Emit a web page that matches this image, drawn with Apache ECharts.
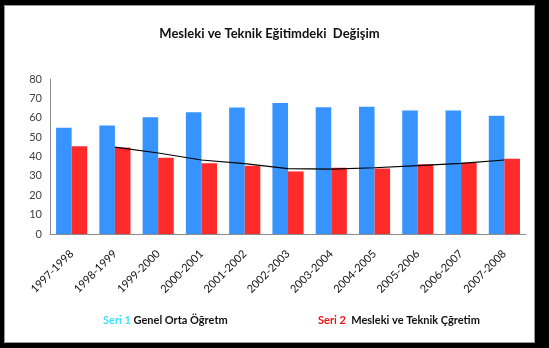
<!DOCTYPE html>
<html>
<head>
<meta charset="utf-8">
<script src="https://cdn.jsdelivr.net/npm/echarts@6/dist/echarts.min.js"></script>
<style>
  html, body { margin: 0; padding: 0; background: #000; }
  body { width: 549px; height: 348px; position: relative; overflow: hidden; }
  #frame {
    position: absolute; left: 4px; top: 5px; width: 531px; height: 338px;
    background: #fff; border: 1px solid #999; box-sizing: border-box;
  }
  #chart { width: 100%; height: 100%; }
</style>
</head>
<body>
<div id="frame"><div id="chart"></div></div>
<script>
// kategoriler (öğretim yılları)
const years = [
  "1997-1998", "1998-1999", "1999-2000", "2000-2001", "2001-2002", "2002-2003",
  "2003-2004", "2004-2005", "2005-2006", "2006-2007", "2007-2008"
];
// Seri 1 - Genel Orta Öğretim (%)
const genelOrta = [54.9, 56, 60.3, 62.8, 65.3, 67.6, 65.4, 65.7, 63.7, 63.7, 61];
// Seri 2 - Mesleki ve Teknik Öğretim (%)
const meslekiTeknik = [45.3, 44.7, 39.4, 36.5, 35.2, 32.3, 34.2, 33.8, 36, 36.8, 38.9];
// eğilim çizgisi
const egilim = [null, 44.8, 41.8, 38.2, 36.3, 33.7, 33.5, 34.2, 35.3, 36.5, 38.2];
const yTicks = [0, 10, 20, 30, 40, 50, 60, 70, 80];

const font = "Lato, 'Open Sans', sans-serif";

const chart = echarts.init(document.getElementById("chart"));

const legendBase = {
  orient: "horizontal",
  top: 304,
  itemWidth: 0,
  itemHeight: 0,
  itemGap: 0,
  icon: "rect",
  selectedMode: false,
  textStyle: {
    fontFamily: font,
    fontSize: 11,
    fontWeight: "bold",
    color: "#111",
  },
};

chart.setOption({
  animation: false,
  title: {
    text: "Mesleki ve Teknik Eğitimdeki  Değişim",
    left: "center",
    top: 16,
    textStyle: { fontFamily: font, fontSize: 13, fontWeight: "bold", color: "#111" },
  },
  grid: { left: 45, right: 8, top: 73, bottom: 108, containLabel: false },
  legend: [
    {
      ...legendBase,
      left: 88,
      data: ["Genel Orta Öğretm"],
      formatter: (n) => "{s|Seri 1} " + n,
      textStyle: { ...legendBase.textStyle, rich: { s: { color: "#3fe0ff", fontFamily: font, fontSize: 11, fontWeight: "bold" } } },
    },
    {
      ...legendBase,
      left: 303,
      data: ["Mesleki ve Teknik Çğretim"],
      formatter: (n) => "{s|Seri 2}  " + n,
      textStyle: { ...legendBase.textStyle, rich: { s: { color: "#ee1111", fontFamily: font, fontSize: 11, fontWeight: "bold" } } },
    },
  ],
  xAxis: {
    type: "category",
    data: years,
    axisLine: { lineStyle: { color: "#8c8c8c", width: 1 } },
    axisTick: { show: false },
    axisLabel: {
      rotate: 45,
      margin: 18,
      fontFamily: font,
      fontSize: 11,
      color: "#111",
      interval: 0,
    },
  },
  yAxis: {
    type: "value",
    min: yTicks[0],
    max: yTicks[yTicks.length - 1],
    interval: 10,
    axisLine: { show: true, lineStyle: { color: "#8c8c8c", width: 1 } },
    axisTick: { show: false },
    splitLine: { show: false },
    axisLabel: { fontFamily: font, fontSize: 11, color: "#404040", margin: 8 },
  },
  series: [
    {
      name: "Genel Orta Öğretm",
      type: "bar",
      data: genelOrta,
      barGap: "0%",
      barCategoryGap: "28%",
      itemStyle: { color: "#3794ff" },
    },
    {
      name: "Mesleki ve Teknik Çğretim",
      type: "bar",
      data: meslekiTeknik,
      itemStyle: { color: "#ff2a2a" },
    },
    {
      name: "eğilim",
      type: "line",
      data: egilim,
      symbol: "none",
      lineStyle: { color: "#000", width: 1.2 },
      z: 5,
    },
  ],
});
</script>
</body>
</html>
